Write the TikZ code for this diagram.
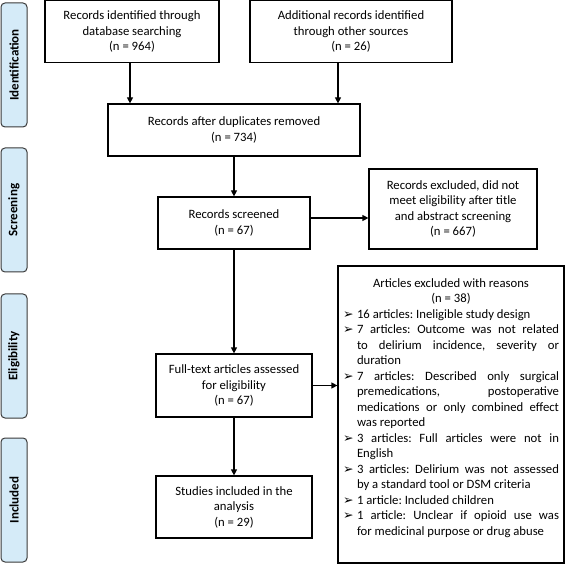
\documentclass[tikz,border=0pt]{standalone}
\usepackage{fontspec}
\setmainfont{Carlito}
\newfontfamily\dejavu{DejaVu Sans}
\usetikzlibrary{arrows.meta}
\frenchspacing
\definecolor{labelblue}{HTML}{D5EBF8}
\definecolor{labeledge}{HTML}{3A3A3A}
\tikzset{
  flowbox/.style={draw=black, line width=1.2pt, align=center, inner sep=0pt,
    font=\fontsize{12.7}{15.5}\selectfont},
  listbox/.style={draw=black, line width=1.2pt, inner sep=0pt, align=justify,
    font=\fontsize{12.7}{15.5}\selectfont},
  phaselabel/.style={draw=labeledge, line width=1pt, fill=labelblue, rounded corners=4pt,
    rotate=90, minimum width=124pt, minimum height=26pt, inner sep=0pt,
    font=\fontsize{13}{15.5}\selectfont\bfseries},
  arr/.style={line width=1.2pt, -{Triangle[length=6pt,width=6pt]}},
}
\newcommand{\bul}{\makebox[14pt][l]{\raisebox{0pt}{\dejavu\fontsize{12.5}{12.5}\selectfont ➢}}}
\newcommand{\bitem}{\par\noindent\leftskip=14pt\hskip-14pt\bul}
\begin{document}
\begin{tikzpicture}[x=1pt,y=-1pt]
\useasboundingbox (0,0) rectangle (568,564);
% phase labels
\node[phaselabel] (lid) at (14,65) {Identification};
\node[phaselabel] (lsc) at (14,210) {Screening};
\node[phaselabel] (lel) at (14,356) {Eligibility};
\node[phaselabel] (lin) at (14,500) {Included};
% boxes
\node[flowbox, minimum width=174pt, minimum height=62pt] (b1) at (132,31.8)
  {Records identified through\\database searching\\(n = 964)};
\node[flowbox, minimum width=202pt, minimum height=62pt] (b2) at (351,31.8)
  {Additional records identified\\through other sources\\(n = 26)};
\node[flowbox, minimum width=252pt, minimum height=52pt] (b3) at (234,130)
  {Records after duplicates removed\\(n = 734)};
\node[flowbox, minimum width=152pt, minimum height=52pt] (b4) at (234,223)
  {Records screened\\(n = 67)};
\node[flowbox, minimum width=168pt, minimum height=80pt] (b5) at (453,209)
  {Records excluded, did not\\meet eligibility after title\\and abstract screening\\(n = 667)};
\node[flowbox, minimum width=156pt, minimum height=63pt] (b6) at (234,385.5)
  {Full-text articles assessed\\for eligibility\\(n = 67)};
\node[flowbox, minimum width=156pt, minimum height=62pt] (b8) at (234,507)
  {Studies included in the\\analysis\\(n = 29)};
\node[listbox, minimum width=226pt, minimum height=297pt, text width=216pt,
      inner xsep=5pt] (b7) at (451,414.5)
  {\hyphenpenalty=10000\exhyphenpenalty=10000\parindent=0pt
   \rightskip=0pt\parfillskip=0pt plus 1fil\emergencystretch=0pt
   \centerline{Articles excluded with reasons}
   \centerline{(n = 38)}
   \bitem 16 articles: Ineligible study design
   \bitem 7 articles: Outcome was not related\linebreak to delirium incidence, severity or\linebreak duration
   \bitem 7 articles: Described only surgical\linebreak premedications, postoperative\linebreak medications or only combined effect\linebreak was reported
   \bitem 3 articles: Full articles were not in\linebreak English
   \bitem 3 articles: Delirium was not assessed\linebreak by a standard tool or DSM criteria
   \bitem 1 article: Included children
   \bitem 1 article: Unclear if opioid use was\linebreak for medicinal purpose or drug abuse\par
   \leftskip=0pt\noindent\rule{0pt}{10pt}\par};
% connectors
\draw[arr] ([xshift=-2pt]b1.south) -- ([xshift=-2pt]b1.south |- b3.north);
\draw[arr] ([xshift=-13pt]b2.south) -- ([xshift=-13pt]b2.south |- b3.north);
\draw[arr] (b3.south) -- (b4.north);
\draw[arr] ([yshift=5pt]b4.east) -- ([yshift=5pt]b4.east -| b5.west);
\draw[arr] (b4.south) -- (b6.north);
\draw[arr] (b6.east) -- (b6.east -| b7.west);
\draw[arr] (b6.south) -- (b8.north);
\end{tikzpicture}
\end{document}
